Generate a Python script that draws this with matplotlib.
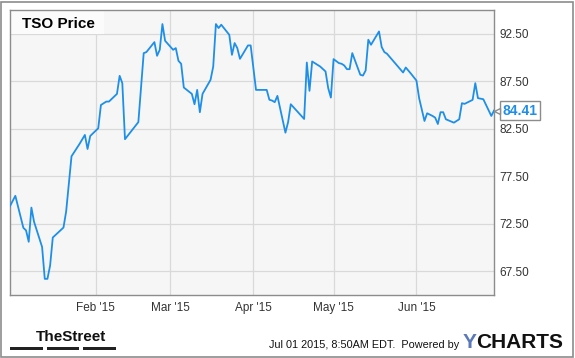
import numpy as np
import pandas as pd
import matplotlib
matplotlib.use("Agg")
import matplotlib.pyplot as plt
import matplotlib.dates as mdates
from matplotlib.patches import Rectangle
from matplotlib.transforms import ScaledTranslation

plt.rcParams['font.family'] = ['Liberation Sans', 'DejaVu Sans']

# TSO close prices
dates = [
    "2014-12-31", "2015-01-02", "2015-01-05", "2015-01-06", "2015-01-07", "2015-01-08",
    "2015-01-09", "2015-01-12", "2015-01-13", "2015-01-14", "2015-01-15", "2015-01-16",
    "2015-01-20", "2015-01-21", "2015-01-23", "2015-01-26", "2015-01-28", "2015-01-29",
    "2015-01-30", "2015-02-02", "2015-02-03", "2015-02-05", "2015-02-06", "2015-02-09",
    "2015-02-10", "2015-02-11", "2015-02-12", "2015-02-17", "2015-02-19", "2015-02-20",
    "2015-02-23", "2015-02-24", "2015-02-25", "2015-02-26", "2015-02-27", "2015-03-02",
    "2015-03-03", "2015-03-04", "2015-03-05", "2015-03-06", "2015-03-09", "2015-03-10",
    "2015-03-11", "2015-03-12", "2015-03-13", "2015-03-16", "2015-03-17", "2015-03-18",
    "2015-03-19", "2015-03-20", "2015-03-23", "2015-03-24", "2015-03-25", "2015-03-26",
    "2015-03-27", "2015-03-30", "2015-03-31", "2015-04-02", "2015-04-06", "2015-04-07",
    "2015-04-08", "2015-04-09", "2015-04-10", "2015-04-13", "2015-04-14", "2015-04-15",
    "2015-04-20", "2015-04-21", "2015-04-22", "2015-04-23", "2015-04-26", "2015-04-28",
    "2015-04-29", "2015-04-30", "2015-05-01", "2015-05-03", "2015-05-04", "2015-05-05",
    "2015-05-06", "2015-05-07", "2015-05-08", "2015-05-11", "2015-05-12", "2015-05-13",
    "2015-05-14", "2015-05-15", "2015-05-18", "2015-05-19", "2015-05-20", "2015-05-21",
    "2015-05-27", "2015-05-28", "2015-05-30", "2015-06-01", "2015-06-02", "2015-06-04",
    "2015-06-05", "2015-06-07", "2015-06-08", "2015-06-09", "2015-06-10", "2015-06-11",
    "2015-06-12", "2015-06-15", "2015-06-17", "2015-06-18", "2015-06-19", "2015-06-22",
    "2015-06-23", "2015-06-24", "2015-06-26", "2015-06-29", "2015-06-30",
]
prices = [
    74.36, 75.44, 72.07, 71.80, 70.60, 74.20,
    72.70, 70.06, 66.70, 66.70, 68.10, 71.05,
    72.10, 73.80, 79.60, 80.90, 81.85, 80.37,
    81.74, 82.55, 85.00, 85.36, 85.36, 86.17,
    88.07, 87.30, 81.40, 83.20, 90.46, 90.57,
    91.62, 90.18, 90.81, 93.52, 91.76, 90.81,
    90.99, 89.65, 89.34, 86.84, 86.17, 85.08,
    86.59, 84.24, 86.17, 87.65, 89.05, 93.52,
    93.10, 93.45, 92.39, 90.28, 91.52, 90.99,
    89.86, 91.27, 91.27, 86.59, 86.59, 85.55,
    85.47, 85.30, 85.96, 82.09, 83.20, 85.08,
    83.53, 89.47, 86.49, 89.58, 89.05, 88.53,
    86.77, 85.78, 89.83, 89.41, 89.34, 89.16,
    88.77, 88.77, 90.46, 88.18, 88.10, 88.63,
    91.87, 91.34, 92.74, 91.10, 90.57, 90.39,
    88.42, 88.95, 88.28, 87.57, 85.72, 83.32,
    84.13, 83.85, 83.67, 83.00, 84.24, 84.24,
    83.50, 83.14, 83.50, 85.19, 85.12, 85.54,
    87.30, 85.72, 85.61, 83.85, 84.41,
]
yticks = [67.5, 72.5, 77.5, 82.5, 87.5, 92.5]
month_ticks = ["2015-02-01", "2015-03-01", "2015-04-01", "2015-05-01", "2015-06-01"]
title = "TSO Price"
last_price = prices[-1]

x = pd.to_datetime(dates)

W, H = 575, 358
fig = plt.figure(figsize=(W / 100, H / 100), dpi=100)
fig.patch.set_facecolor("white")

# outer frame
fig.patches.append(Rectangle((1 / W, 1 / H), 1 - 3 / W, 1 - 3 / H, transform=fig.transFigure,
                             fill=False, ec="#8c8c8c", lw=1.2))

ax = fig.add_axes([10 / W, 1 - 295 / H, 484 / W, 285 / H])
ax.set_facecolor("#f6f6f6")
ax.plot(x, prices, color="#1e8fe8", lw=1.3, zorder=3)

ax.set_xlim(pd.Timestamp("2014-12-31"), pd.Timestamp("2015-06-30"))
ax.set_ylim(65, 95)
ax.set_xticks(pd.to_datetime(month_ticks))
ax.xaxis.set_major_formatter(mdates.DateFormatter("%b '%y"))
ax.set_yticks(yticks)
ax.set_yticklabels(["%.2f" % v for v in yticks])
ax.yaxis.tick_right()
ax.tick_params(axis="both", length=0, labelsize=8.5, colors="#333333")
ax.tick_params(axis="y", pad=4)
ax.tick_params(axis="x", pad=5)
ax.grid(True, color="#d9d9d9", lw=0.9)
ax.set_axisbelow(True)
for s in ax.spines.values():
    s.set_color("#8c8c8c")
    s.set_linewidth(1.0)

# title box in the top left
ax.add_patch(Rectangle((0, 1 - 24 / 285), 94 / 484, 24 / 285, transform=ax.transAxes,
                       fc="#fbfbfb", ec="none", zorder=2))
ax.text(12 / 484, 1 - 14 / 285, title, transform=ax.transAxes, fontsize=11,
        fontweight="bold", va="center", ha="left", color="black", zorder=4)

# last price tag
ytr = ax.get_yaxis_transform()
ax.annotate("%.2f" % last_price, xy=(1, last_price), xycoords=ytr,
            xytext=(6, 0), textcoords="offset points", va="center", ha="left",
            fontsize=10, fontweight="bold", color="#1e8fe8",
            bbox=dict(boxstyle="square,pad=0.2", fc="white", ec="#8c8c8c", lw=1.0),
            annotation_clip=False, zorder=6)
ax.plot([1], [last_price], marker="<", ms=5, mfc="white", mec="#8c8c8c", mew=1.0,
        transform=ytr + ScaledTranslation(0.03, 0, fig.dpi_scale_trans),
        clip_on=False, zorder=7)

# footer
fig.text(36 / W, 1 - 341 / H, "TheStreet", fontsize=11, fontweight="bold",
         family=["Liberation Sans Narrow", "Liberation Sans"], ha="left", va="baseline",
         color="#111111")
for x0, x1 in [(10, 43), (47, 79), (83, 116)]:
    fig.patches.append(Rectangle((x0 / W, 1 - 350 / H), (x1 - x0) / W, 3 / H,
                                 transform=fig.transFigure, fc="#222222", ec="none"))

fig.text(459 / W, 1 - 348 / H, "Jul 01 2015, 8:50AM EDT.  Powered by", fontsize=7.8,
         ha="right", va="baseline", color="#111111")
fig.text(463 / W, 1 - 348 / H, "Y", fontsize=15, fontweight="bold", ha="left",
         va="baseline", color="#5b79b9")
fig.text(476 / W, 1 - 348 / H, "CHARTS", fontsize=15, fontweight="bold", ha="left",
         va="baseline", color="#111111")

fig.savefig("out.png", dpi=100)
